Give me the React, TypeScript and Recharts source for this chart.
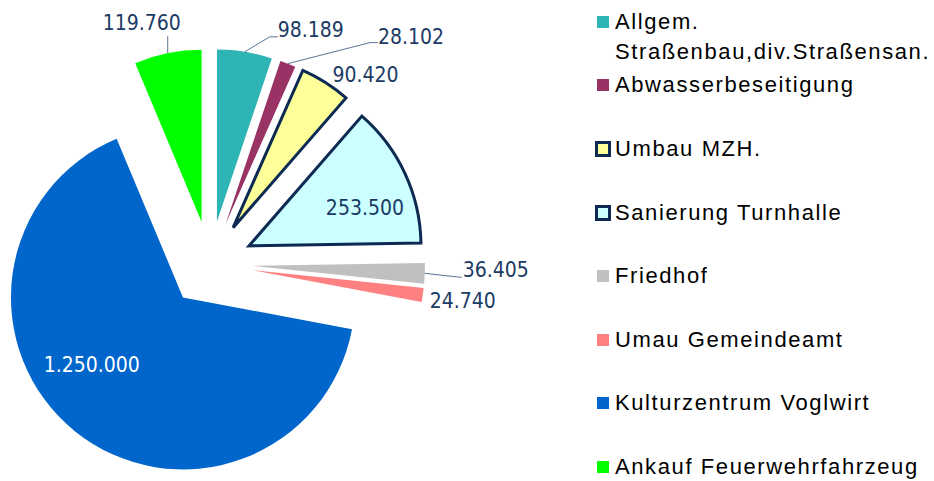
import { PieChart, Pie, Cell, Sector, Legend } from 'recharts';

const categories = [
  'Allgem. Straßenbau,div.Straßensan.',
  'Abwasserbeseitigung',
  'Umbau MZH.',
  'Sanierung Turnhalle',
  'Friedhof',
  'Umau Gemeindeamt',
  'Kulturzentrum Voglwirt',
  'Ankauf Feuerwehrfahrzeug',
];
const amounts = [98189, 28102, 90420, 253500, 36405, 24740, 1250000, 119760];
const colors = ['#2EB4B4', '#993366', '#FFFF99', '#CCFFFF', '#C0C0C0', '#FF8080', '#0066CC', '#00FF00'];
const outlined = [false, false, true, true, false, false, false, false];

const data = categories.map((name, i) => ({ name, value: amounts[i] }));

const EXPLODE = 43;
const RAD = Math.PI / 180;
const OUTLINE = '#0D2B52';
const LABEL_COLOR = '#1B3A64';
const LABEL_FONT = "'DejaVu Sans Condensed', 'DejaVu Sans', sans-serif";

// label layout, offsets from the outer edge point of each exploded slice
type LabelLayout = { line?: [number, number][]; text: [number, number]; anchor: 'start' | 'middle'; color?: string };
const labelLayout: LabelLayout[] = [
  { line: [[25, -15], [33, -15]], text: [33, -22], anchor: 'start' },
  { line: [[82, -21], [90, -21]], text: [90, -27], anchor: 'start' },
  { text: [7, -8], anchor: 'start' },
  { text: [-40, 35], anchor: 'middle' },
  { line: [[36, 4], [37, 4]], text: [38, -3], anchor: 'start' },
  { text: [7, 6], anchor: 'start' },
  { text: [17, -66], anchor: 'middle', color: '#FFFFFF' },
  { line: [[0, -17]], text: [-26, -30], anchor: 'middle' },
];

const fmt = (n: number) => String(n).replace(/\B(?=(\d{3})+(?!\d))/g, '.');

const shift = (midAngle: number) => ({
  dx: Math.cos(-midAngle * RAD) * EXPLODE,
  dy: Math.sin(-midAngle * RAD) * EXPLODE,
});

const idxOf = (props: any) => (typeof props.index === 'number' ? props.index : categories.indexOf(props.name));

const ExplodedSector = (props: any) => {
  const { cx, cy, midAngle, innerRadius, outerRadius, startAngle, endAngle } = props;
  const i = idxOf(props);
  const { dx, dy } = shift(midAngle);
  return (
    <Sector
      cx={cx + dx}
      cy={cy + dy}
      innerRadius={innerRadius}
      outerRadius={outerRadius}
      startAngle={startAngle}
      endAngle={endAngle}
      fill={colors[i]}
      stroke={outlined[i] ? OUTLINE : 'none'}
      strokeWidth={outlined[i] ? 3 : 0}
      strokeLinejoin="miter"
    />
  );
};

const renderLabel = (props: any) => {
  const { cx, cy, midAngle, outerRadius } = props;
  const i = idxOf(props);
  const lay = labelLayout[i];
  const { dx, dy } = shift(midAngle);
  const ex = cx + dx + Math.cos(-midAngle * RAD) * outerRadius;
  const ey = cy + dy + Math.sin(-midAngle * RAD) * outerRadius;
  const pts = lay.line ? [[ex, ey], ...lay.line.map(([a, b]) => [ex + a, ey + b])] : null;
  return (
    <g key={`lbl-${i}`}>
      {pts && (
        <polyline points={pts.map((p) => p.join(',')).join(' ')} fill="none" stroke="#5A7396" strokeWidth={1} />
      )}
      <text
        x={ex + lay.text[0]}
        y={ey + lay.text[1]}
        fill={lay.color ?? LABEL_COLOR}
        fontSize={21}
        fontFamily={LABEL_FONT}
        textAnchor={lay.anchor}
        dominantBaseline="central"
      >
        {fmt(amounts[i])}
      </text>
    </g>
  );
};

const renderLegend = () => (
  <div style={{ position: 'relative', fontFamily: "'Liberation Sans', Arial, sans-serif", fontSize: 22, letterSpacing: 1.6, color: '#000' }}>
    {categories.map((c, i) => {
      const box = outlined[i] ? 16 : 12;
      return (
        <div key={c} style={{ position: 'absolute', left: 0, top: 6.7 + 63.6 * i, lineHeight: '30px', width: 339 }}>
          <span
            style={{
              position: 'absolute',
              left: outlined[i] ? 0 : 2,
              top: 15 - box / 2,
              width: box,
              height: box,
              boxSizing: 'border-box',
              background: colors[i],
              border: outlined[i] ? `3px solid ${OUTLINE}` : 'none',
            }}
          />
          <div style={{ marginLeft: 20, width: 319, whiteSpace: 'normal' }}>{c}</div>
        </div>
      );
    })}
  </div>
);

export default function App() {
  return (
    <div style={{ position: 'absolute', left: 0, top: 0, width: 934, height: 481, overflow: 'hidden', background: '#fff' }}>
      <PieChart width={934} height={481} margin={{ top: 0, right: 0, bottom: 0, left: 0 }}>
        <Pie
          data={data}
          dataKey="value"
          nameKey="name"
          cx={210}
          cy={264}
          outerRadius={172}
          startAngle={90}
          endAngle={-270}
          stroke="none"
          shape={ExplodedSector}
          label={renderLabel}
          labelLine={false}
          isAnimationActive={false}
        >
          {data.map((d, i) => (
            <Cell key={d.name} fill={colors[i]} />
          ))}
        </Pie>
        <Legend
          layout="vertical"
          align="right"
          verticalAlign="top"
          content={renderLegend}
          wrapperStyle={{ left: 595, top: 0, width: 339, height: 481 }}
        />
      </PieChart>
    </div>
  );
}
